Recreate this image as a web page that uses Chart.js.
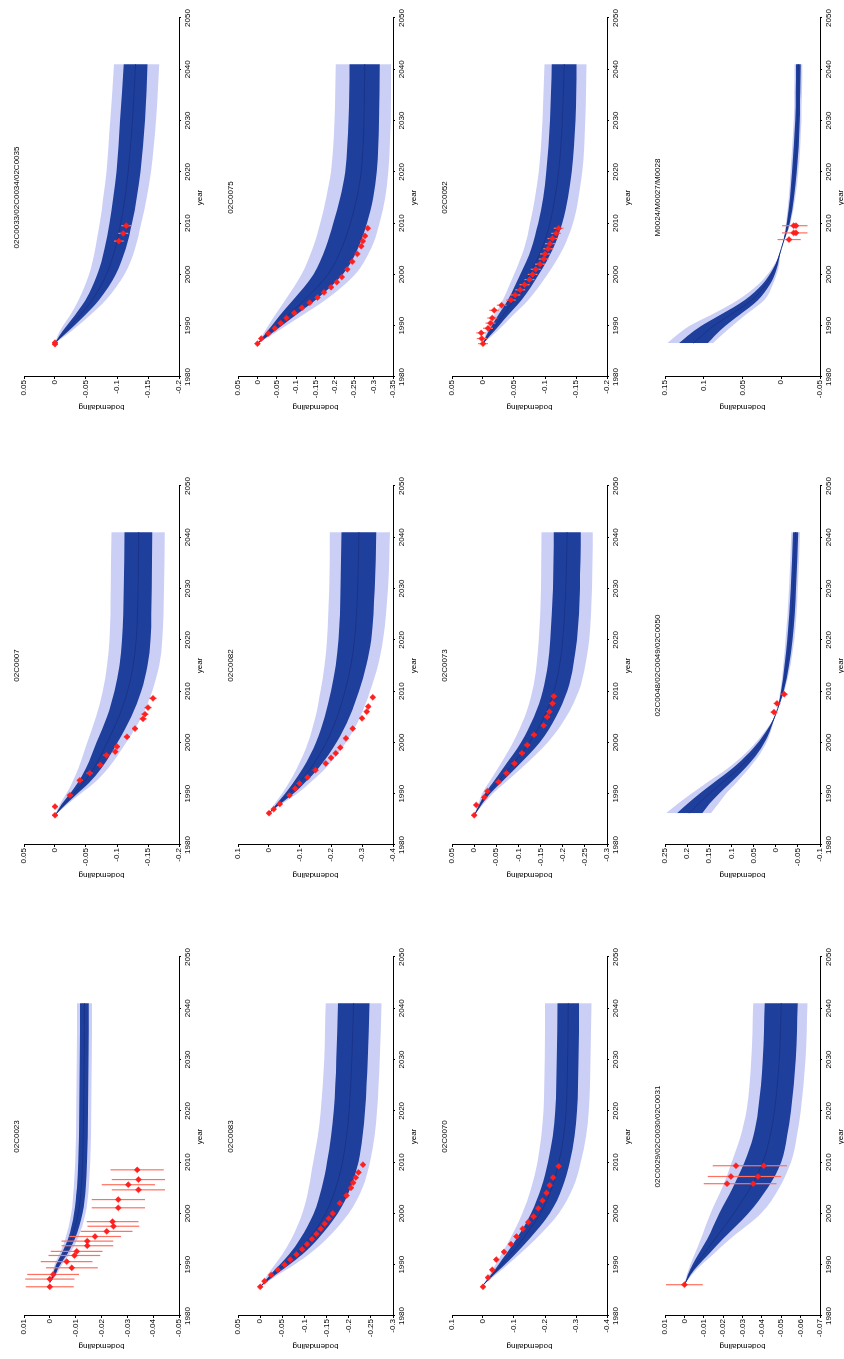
<!DOCTYPE html>
<html>
<head>
<meta charset="utf-8">
<title>bodemdaling per meetpunt</title>
<script src="https://cdn.jsdelivr.net/npm/chart.js@4.4.1/dist/chart.umd.min.js"></script>
<style>
  html, body { margin: 0; padding: 0; background: #fff; overflow: hidden; }
  body { width: 844px; height: 1359px; position: relative; }
  /* the sheet is laid out landscape and turned a quarter counter-clockwise */
  #sheet { position: absolute; left: 0; top: 0; width: 1359px; height: 844px;
           transform-origin: 0 0; transform: translate(0, 1359px) rotate(-90deg); }
  #sheet canvas { position: absolute; }
</style>
</head>
<body>
<div id="sheet"></div>
<script>
// ---------- data ----------
const yearTicks = [1980, 1990, 2000, 2010, 2020, 2030, 2040, 2050];

// 02C0023
const tick0023 = [0.01, 0, -0.01, -0.02, -0.03, -0.04, -0.05];
const yrs0023 = [1986.5, 1988, 1990, 1992, 1995, 2000, 2005, 2010, 2020, 2030, 2041];
const hi2_0023 = [0, -0.0006, -0.0018, -0.0036, -0.0060, -0.0083, -0.0093, -0.0098, -0.0102, -0.0104, -0.0105];
const hi1_0023 = [0, -0.0010, -0.0024, -0.0044, -0.0070, -0.0094, -0.0105, -0.0110, -0.0114, -0.0116, -0.0117];
const mid0023  = [0, -0.0015, -0.0032, -0.0055, -0.0083, -0.0110, -0.0122, -0.0127, -0.0131, -0.0133, -0.0134];
const lo1_0023 = [0, -0.0020, -0.0040, -0.0066, -0.0096, -0.0126, -0.0139, -0.0144, -0.0148, -0.0150, -0.0151];
const lo2_0023 = [0, -0.0025, -0.0047, -0.0075, -0.0107, -0.0138, -0.0151, -0.0156, -0.0160, -0.0162, -0.0163];
const obsYr0023  = [1985.7, 1987.2, 1988.1, 1989.4, 1990.6, 1991.8, 1992.6, 1993.7, 1994.6, 1995.5, 1996.5, 1997.5, 1998.4, 2001.1, 2002.7, 2004.6, 2005.6, 2006.6, 2008.5];
const obsVal0023 = [0, 0, -0.0013, -0.0085, -0.0065, -0.0095, -0.0104, -0.0145, -0.0145, -0.0175, -0.0220, -0.0246, -0.0243, -0.0265, -0.0265, -0.0343, -0.0304, -0.0343, -0.0338];
const obsErr0023 = [0.0093, 0.0095, 0.0100, 0.0100, 0.0100, 0.0100, 0.0100, 0.0100, 0.0100, 0.0100, 0.0100, 0.0100, 0.0100, 0.0103, 0.0103, 0.0103, 0.0103, 0.0103, 0.0103];

// 02C0007
const tick0007 = [0.05, 0, -0.05, -0.1, -0.15, -0.2];
const yrs0007 = [1985.8, 1988, 1990, 1992, 1995, 2000, 2005, 2010, 2015, 2020, 2030, 2041];
const hi2_0007 = [0, -0.008, -0.018, -0.027, -0.038, -0.052, -0.066, -0.077, -0.084, -0.088, -0.090, -0.091];
const hi1_0007 = [0, -0.011, -0.024, -0.036, -0.050, -0.067, -0.084, -0.096, -0.104, -0.108, -0.111, -0.112];
const mid0007  = [0, -0.015, -0.030, -0.045, -0.063, -0.084, -0.103, -0.117, -0.126, -0.131, -0.134, -0.135];
const lo1_0007 = [0, -0.018, -0.036, -0.054, -0.075, -0.101, -0.123, -0.139, -0.149, -0.154, -0.156, -0.157];
const lo2_0007 = [0, -0.021, -0.041, -0.062, -0.086, -0.115, -0.140, -0.157, -0.168, -0.173, -0.176, -0.177];
const obsYr0007  = [1985.8, 1987.5, 1989.7, 1992.6, 1994.0, 1995.6, 1997.5, 1998.2, 1999.2, 2001.1, 2002.7, 2004.6, 2005.5, 2006.8, 2008.6];
const obsVal0007 = [0, 0, -0.024, -0.040, -0.056, -0.073, -0.083, -0.097, -0.100, -0.116, -0.129, -0.142, -0.145, -0.150, -0.158];
const obsErr0007 = [0.005, 0.005, 0.005, 0.005, 0.005, 0.005, 0.005, 0.005, 0.005, 0.005, 0.005, 0.006, 0.006, 0.006, 0.006];

// 02C0033/02C0034/02C0035
const tick0033 = [0.05, 0, -0.05, -0.1, -0.15, -0.2];
const yrs0033 = [1986.6, 1988, 1990, 1992, 1995, 2000, 2005, 2010, 2015, 2020, 2030, 2041];
const hi2_0033 = [0, -0.004, -0.013, -0.024, -0.038, -0.055, -0.065, -0.072, -0.078, -0.083, -0.089, -0.095];
const hi1_0033 = [0, -0.007, -0.019, -0.032, -0.049, -0.068, -0.080, -0.088, -0.094, -0.099, -0.105, -0.111];
const mid0033  = [0, -0.010, -0.025, -0.040, -0.060, -0.083, -0.097, -0.106, -0.113, -0.118, -0.125, -0.130];
const lo1_0033 = [0, -0.013, -0.031, -0.048, -0.071, -0.098, -0.114, -0.124, -0.132, -0.138, -0.145, -0.149];
const lo2_0033 = [0, -0.016, -0.037, -0.056, -0.082, -0.112, -0.129, -0.139, -0.148, -0.155, -0.163, -0.168];
const obsYr0033  = [1986.4, 1986.7, 2006.5, 2008.0, 2009.5];
const obsVal0033 = [0, 0, -0.103, -0.110, -0.115];
const obsErr0033 = [0.004, 0.004, 0.008, 0.008, 0.008];

// 02C0083
const tick0083 = [0.05, 0, -0.05, -0.1, -0.15, -0.2, -0.25, -0.3];
const yrs0083 = [1985.7, 1988, 1990, 1992, 1995, 2000, 2005, 2010, 2015, 2020, 2030, 2041];
const hi2_0083 = [0, -0.016, -0.033, -0.050, -0.070, -0.095, -0.110, -0.120, -0.130, -0.137, -0.145, -0.148];
const hi1_0083 = [0, -0.022, -0.044, -0.065, -0.090, -0.121, -0.139, -0.151, -0.160, -0.166, -0.172, -0.176];
const mid0083  = [0, -0.028, -0.055, -0.080, -0.110, -0.148, -0.171, -0.186, -0.195, -0.201, -0.207, -0.211];
const lo1_0083 = [0, -0.034, -0.066, -0.095, -0.130, -0.175, -0.204, -0.222, -0.231, -0.237, -0.243, -0.247];
const lo2_0083 = [0, -0.040, -0.077, -0.110, -0.150, -0.200, -0.231, -0.248, -0.258, -0.264, -0.270, -0.274];
const obsYr0083  = [1985.7, 1986.8, 1988, 1989, 1990, 1991, 1992, 1993, 1994, 1995, 1996, 1997, 1998, 1999, 2000, 2002, 2003.5, 2005, 2006, 2007, 2008, 2009.5];
const obsVal0083 = [0, -0.010, -0.025, -0.040, -0.055, -0.068, -0.082, -0.095, -0.106, -0.117, -0.127, -0.137, -0.146, -0.155, -0.164, -0.180, -0.195, -0.205, -0.210, -0.216, -0.222, -0.232];
const obsErr0083 = [0.004, 0.004, 0.004, 0.004, 0.004, 0.004, 0.004, 0.004, 0.004, 0.004, 0.004, 0.004, 0.004, 0.004, 0.004, 0.004, 0.004, 0.004, 0.004, 0.004, 0.004, 0.004];

// 02C0082
const tick0082 = [0.1, 0, -0.1, -0.2, -0.3, -0.4];
const yrs0082 = [1986.2, 1988, 1990, 1992, 1995, 2000, 2005, 2010, 2015, 2020, 2030, 2041];
const hi2_0082 = [0, -0.018, -0.042, -0.063, -0.090, -0.126, -0.150, -0.166, -0.179, -0.187, -0.194, -0.196];
const hi1_0082 = [0, -0.024, -0.052, -0.077, -0.110, -0.152, -0.180, -0.200, -0.215, -0.224, -0.231, -0.234];
const mid0082  = [0, -0.030, -0.065, -0.095, -0.135, -0.185, -0.220, -0.245, -0.264, -0.276, -0.286, -0.290];
const lo1_0082 = [0, -0.036, -0.078, -0.113, -0.160, -0.218, -0.260, -0.290, -0.314, -0.330, -0.341, -0.346];
const lo2_0082 = [0, -0.042, -0.090, -0.130, -0.183, -0.248, -0.294, -0.326, -0.352, -0.368, -0.384, -0.390];
const obsYr0082  = [1986.2, 1987, 1988, 1989.7, 1991, 1992, 1993.2, 1994.6, 1995.9, 1997, 1997.9, 1999, 2000.8, 2002.7, 2004.7, 2006, 2007, 2008.8];
const obsVal0082 = [0, -0.015, -0.035, -0.066, -0.085, -0.098, -0.124, -0.150, -0.183, -0.200, -0.215, -0.230, -0.248, -0.270, -0.300, -0.315, -0.320, -0.335];
const obsErr0082 = [0.006, 0.006, 0.006, 0.006, 0.006, 0.006, 0.006, 0.006, 0.006, 0.006, 0.006, 0.006, 0.006, 0.006, 0.006, 0.006, 0.006, 0.006];

// 02C0075
const tick0075 = [0.05, 0, -0.05, -0.1, -0.15, -0.2, -0.25, -0.3, -0.35];
const yrs0075 = [1986.5, 1988, 1990, 1992, 1995, 2000, 2005, 2010, 2015, 2020, 2030, 2041];
const hi2_0075 = [0, -0.012, -0.028, -0.045, -0.072, -0.114, -0.142, -0.162, -0.178, -0.190, -0.199, -0.202];
const hi1_0075 = [0, -0.016, -0.037, -0.058, -0.092, -0.145, -0.175, -0.196, -0.214, -0.227, -0.235, -0.238];
const mid0075  = [0, -0.022, -0.050, -0.078, -0.121, -0.182, -0.217, -0.240, -0.257, -0.268, -0.275, -0.277];
const lo1_0075 = [0, -0.028, -0.063, -0.098, -0.150, -0.220, -0.259, -0.283, -0.299, -0.308, -0.314, -0.316];
const lo2_0075 = [0, -0.033, -0.074, -0.115, -0.175, -0.252, -0.293, -0.315, -0.330, -0.338, -0.344, -0.345];
const obsYr0075  = [1986.5, 1987.5, 1988.5, 1989.5, 1990.5, 1991.5, 1992.5, 1993.5, 1994.5, 1995.5, 1996.5, 1997.5, 1998.5, 1999.5, 2001, 2002.5, 2004, 2005.5, 2006.5, 2007.5, 2009];
const obsVal0075 = [0, -0.010, -0.028, -0.045, -0.060, -0.075, -0.095, -0.115, -0.135, -0.155, -0.172, -0.190, -0.205, -0.218, -0.232, -0.245, -0.258, -0.268, -0.272, -0.278, -0.285];
const obsErr0075 = [0.004, 0.004, 0.004, 0.004, 0.004, 0.004, 0.004, 0.004, 0.004, 0.004, 0.004, 0.004, 0.004, 0.004, 0.004, 0.004, 0.004, 0.004, 0.004, 0.004, 0.004];

// 02C0070
const tick0070 = [0.1, 0, -0.1, -0.2, -0.3, -0.4];
const yrs0070 = [1986, 1988, 1990, 1992, 1995, 2000, 2005, 2010, 2015, 2020, 2030, 2041];
const hi2_0070 = [0, -0.020, -0.040, -0.059, -0.087, -0.127, -0.156, -0.176, -0.188, -0.195, -0.199, -0.200];
const hi1_0070 = [0, -0.025, -0.050, -0.073, -0.107, -0.155, -0.188, -0.210, -0.225, -0.233, -0.238, -0.240];
const mid0070  = [0, -0.030, -0.060, -0.088, -0.128, -0.185, -0.222, -0.245, -0.260, -0.268, -0.273, -0.275];
const lo1_0070 = [0, -0.035, -0.070, -0.103, -0.149, -0.215, -0.256, -0.280, -0.295, -0.303, -0.308, -0.310];
const lo2_0070 = [0, -0.040, -0.080, -0.117, -0.170, -0.244, -0.290, -0.315, -0.332, -0.341, -0.347, -0.350];
const obsYr0070  = [1985.7, 1987.5, 1989, 1991, 1992.5, 1994, 1995.5, 1997, 1998.3, 1999.4, 2001, 2002.5, 2004, 2005.5, 2007, 2009.2];
const obsVal0070 = [0, -0.016, -0.030, -0.043, -0.068, -0.090, -0.108, -0.128, -0.146, -0.163, -0.178, -0.192, -0.205, -0.215, -0.226, -0.244];
const obsErr0070 = [0.006, 0.006, 0.006, 0.006, 0.006, 0.006, 0.006, 0.006, 0.006, 0.006, 0.006, 0.006, 0.006, 0.006, 0.006, 0.006];

// 02C0073
const tick0073 = [0.05, 0, -0.05, -0.1, -0.15, -0.2, -0.25, -0.3];
const yrs0073 = [1985.8, 1988, 1990, 1992, 1995, 2000, 2005, 2010, 2015, 2020, 2030, 2041];
const hi2_0073 = [0, -0.009, -0.018, -0.032, -0.054, -0.088, -0.114, -0.131, -0.141, -0.146, -0.151, -0.152];
const hi1_0073 = [0, -0.012, -0.024, -0.041, -0.066, -0.106, -0.135, -0.155, -0.166, -0.172, -0.178, -0.180];
const mid0073  = [0, -0.015, -0.030, -0.050, -0.080, -0.125, -0.158, -0.180, -0.193, -0.200, -0.207, -0.210];
const lo1_0073 = [0, -0.018, -0.036, -0.059, -0.094, -0.148, -0.185, -0.210, -0.224, -0.232, -0.239, -0.241];
const lo2_0073 = [0, -0.021, -0.042, -0.068, -0.107, -0.166, -0.208, -0.236, -0.251, -0.260, -0.266, -0.268];
const obsYr0073  = [1985.8, 1987.8, 1989.3, 1990.5, 1992.3, 1994, 1995.9, 1997.9, 1999.5, 2001.5, 2003.3, 2005, 2006, 2007.6, 2009];
const obsVal0073 = [0, -0.005, -0.023, -0.030, -0.055, -0.073, -0.091, -0.108, -0.120, -0.135, -0.157, -0.165, -0.170, -0.177, -0.180];
const obsErr0073 = [0.006, 0.006, 0.006, 0.006, 0.006, 0.006, 0.006, 0.006, 0.006, 0.006, 0.006, 0.006, 0.006, 0.006, 0.006];

// 02C0052
const tick0052 = [0.05, 0, -0.05, -0.1, -0.15, -0.2];
const yrs0052 = [1986.5, 1988, 1990, 1992, 1995, 2000, 2005, 2010, 2015, 2020, 2030, 2041];
const hi2_0052 = [0, -0.003, -0.010, -0.018, -0.032, -0.050, -0.066, -0.076, -0.084, -0.090, -0.096, -0.099];
const hi1_0052 = [0, -0.005, -0.014, -0.024, -0.040, -0.060, -0.078, -0.089, -0.097, -0.102, -0.108, -0.111];
const mid0052  = [0, -0.008, -0.020, -0.032, -0.050, -0.075, -0.095, -0.108, -0.116, -0.122, -0.128, -0.131];
const lo1_0052 = [0, -0.011, -0.026, -0.040, -0.062, -0.090, -0.113, -0.128, -0.137, -0.143, -0.149, -0.151];
const lo2_0052 = [0, -0.014, -0.032, -0.048, -0.073, -0.104, -0.129, -0.145, -0.154, -0.160, -0.165, -0.167];
const obsYr0052  = [1986.5, 1987.5, 1988.6, 1989.5, 1990.5, 1991.5, 1993, 1994, 1995, 1996, 1997, 1998, 1999, 2000, 2001, 2002, 2003, 2004, 2005, 2006, 2007, 2008, 2009];
const obsVal0052 = [0, 0.002, 0.003, -0.008, -0.012, -0.015, -0.018, -0.030, -0.045, -0.052, -0.060, -0.067, -0.075, -0.080, -0.085, -0.092, -0.098, -0.100, -0.105, -0.108, -0.112, -0.118, -0.122];
const obsErr0052 = [0.008, 0.008, 0.008, 0.008, 0.008, 0.008, 0.008, 0.008, 0.008, 0.008, 0.008, 0.008, 0.008, 0.008, 0.008, 0.008, 0.008, 0.008, 0.008, 0.008, 0.008, 0.008, 0.008];

// 02C0029/02C0030/02C0031
const tick0029 = [0.01, 0, -0.01, -0.02, -0.03, -0.04, -0.05, -0.06, -0.07];
const yrs0029 = [1986.1, 1988, 1990, 1992, 1995, 2000, 2005, 2010, 2015, 2020, 2030, 2041];
const hi2_0029 = [0, -0.0012, -0.0030, -0.0052, -0.0085, -0.0135, -0.0195, -0.0245, -0.0290, -0.0320, -0.0345, -0.0355];
const hi1_0029 = [0, -0.0018, -0.0042, -0.0072, -0.0118, -0.0180, -0.0250, -0.0310, -0.0355, -0.0380, -0.0405, -0.0415];
const mid0029  = [0, -0.0025, -0.0058, -0.0098, -0.0158, -0.0255, -0.0340, -0.0405, -0.0442, -0.0465, -0.0490, -0.0500];
const lo1_0029 = [0, -0.0032, -0.0074, -0.0124, -0.0198, -0.0330, -0.0430, -0.0500, -0.0530, -0.0550, -0.0575, -0.0585];
const lo2_0029 = [0, -0.0038, -0.0088, -0.0148, -0.0235, -0.0395, -0.0490, -0.0550, -0.0580, -0.0600, -0.0625, -0.0635];
const obsYr0029  = [1986.1, 2005.8, 2005.8, 2007.2, 2007.2, 2009.3, 2009.3];
const obsVal0029 = [0, -0.0220, -0.0355, -0.0240, -0.0380, -0.0266, -0.0410];
const obsErr0029 = [0.0095, 0.012, 0.012, 0.012, 0.012, 0.012, 0.012];

// 02C0048/02C0049/02C0050
const tick0048 = [0.25, 0.2, 0.15, 0.1, 0.05, 0, -0.05, -0.1];
const yrs0048 = [1986.2, 1988, 1990, 1992, 1995, 1998, 2001, 2005.5, 2010, 2020, 2030, 2041];
const hi2_0048 = [0.248, 0.222, 0.191, 0.158, 0.108, 0.067, 0.035, 0, -0.010, -0.022, -0.030, -0.035];
const hi1_0048 = [0.223, 0.200, 0.172, 0.142, 0.097, 0.060, 0.031, 0, -0.012, -0.026, -0.034, -0.039];
const mid0048  = [0.195, 0.175, 0.150, 0.123, 0.083, 0.050, 0.025, 0, -0.015, -0.032, -0.040, -0.045];
const lo1_0048 = [0.166, 0.150, 0.128, 0.104, 0.069, 0.040, 0.019, 0, -0.018, -0.038, -0.046, -0.051];
const lo2_0048 = [0.146, 0.130, 0.112, 0.090, 0.060, 0.034, 0.016, 0, -0.020, -0.042, -0.050, -0.055];
const obsYr0048  = [2005.9, 2007.6, 2009.4];
const obsVal0048 = [0.004, -0.003, -0.019];
const obsErr0048 = [0.008, 0.008, 0.008];

// M0024/M0027/M0028
const tickM0024 = [0.15, 0.1, 0.05, 0, -0.05];
const yrsM0024 = [1986.6, 1988, 1990, 1992, 1995, 1998, 2001, 2005, 2010, 2020, 2030, 2041];
const hi2_M0024 = [0.147, 0.136, 0.118, 0.092, 0.056, 0.030, 0.013, 0, -0.006, -0.012, -0.016, -0.017];
const hi1_M0024 = [0.132, 0.121, 0.103, 0.080, 0.047, 0.025, 0.011, 0, -0.007, -0.014, -0.018, -0.019];
const midM0024  = [0.113, 0.103, 0.087, 0.067, 0.038, 0.020, 0.009, 0, -0.009, -0.017, -0.021, -0.022];
const lo1_M0024 = [0.095, 0.086, 0.072, 0.055, 0.030, 0.015, 0.006, 0, -0.011, -0.020, -0.024, -0.025];
const lo2_M0024 = [0.088, 0.078, 0.063, 0.047, 0.022, 0.011, 0.004, 0, -0.012, -0.022, -0.026, -0.027];
const obsYrM0024  = [2006.8, 2008.1, 2008.1, 2009.5, 2009.5];
const obsValM0024 = [-0.010, -0.016, -0.019, -0.016, -0.019];
const obsErrM0024 = [0.015, 0.015, 0.015, 0.015, 0.015];

// ---------- panels (row / column of the landscape sheet) ----------
const panels = [
  { title: '02C0023', row: 0, col: 0, ticks: tick0023, yrs: yrs0023, hi2: hi2_0023, hi1: hi1_0023, mid: mid0023, lo1: lo1_0023, lo2: lo2_0023, oy: obsYr0023, ov: obsVal0023, oe: obsErr0023 },
  { title: '02C0007', row: 0, col: 1, ticks: tick0007, yrs: yrs0007, hi2: hi2_0007, hi1: hi1_0007, mid: mid0007, lo1: lo1_0007, lo2: lo2_0007, oy: obsYr0007, ov: obsVal0007, oe: obsErr0007 },
  { title: '02C0033/02C0034/02C0035', row: 0, col: 2, ticks: tick0033, yrs: yrs0033, hi2: hi2_0033, hi1: hi1_0033, mid: mid0033, lo1: lo1_0033, lo2: lo2_0033, oy: obsYr0033, ov: obsVal0033, oe: obsErr0033 },
  { title: '02C0083', row: 1, col: 0, ticks: tick0083, yrs: yrs0083, hi2: hi2_0083, hi1: hi1_0083, mid: mid0083, lo1: lo1_0083, lo2: lo2_0083, oy: obsYr0083, ov: obsVal0083, oe: obsErr0083 },
  { title: '02C0082', row: 1, col: 1, ticks: tick0082, yrs: yrs0082, hi2: hi2_0082, hi1: hi1_0082, mid: mid0082, lo1: lo1_0082, lo2: lo2_0082, oy: obsYr0082, ov: obsVal0082, oe: obsErr0082 },
  { title: '02C0075', row: 1, col: 2, ticks: tick0075, yrs: yrs0075, hi2: hi2_0075, hi1: hi1_0075, mid: mid0075, lo1: lo1_0075, lo2: lo2_0075, oy: obsYr0075, ov: obsVal0075, oe: obsErr0075 },
  { title: '02C0070', row: 2, col: 0, ticks: tick0070, yrs: yrs0070, hi2: hi2_0070, hi1: hi1_0070, mid: mid0070, lo1: lo1_0070, lo2: lo2_0070, oy: obsYr0070, ov: obsVal0070, oe: obsErr0070 },
  { title: '02C0073', row: 2, col: 1, ticks: tick0073, yrs: yrs0073, hi2: hi2_0073, hi1: hi1_0073, mid: mid0073, lo1: lo1_0073, lo2: lo2_0073, oy: obsYr0073, ov: obsVal0073, oe: obsErr0073 },
  { title: '02C0052', row: 2, col: 2, ticks: tick0052, yrs: yrs0052, hi2: hi2_0052, hi1: hi1_0052, mid: mid0052, lo1: lo1_0052, lo2: lo2_0052, oy: obsYr0052, ov: obsVal0052, oe: obsErr0052 },
  { title: '02C0029/02C0030/02C0031', row: 3, col: 0, ticks: tick0029, yrs: yrs0029, hi2: hi2_0029, hi1: hi1_0029, mid: mid0029, lo1: lo1_0029, lo2: lo2_0029, oy: obsYr0029, ov: obsVal0029, oe: obsErr0029 },
  { title: '02C0048/02C0049/02C0050', row: 3, col: 1, ticks: tick0048, yrs: yrs0048, hi2: hi2_0048, hi1: hi1_0048, mid: mid0048, lo1: lo1_0048, lo2: lo2_0048, oy: obsYr0048, ov: obsVal0048, oe: obsErr0048 },
  { title: 'M0024/M0027/M0028', row: 3, col: 2, ticks: tickM0024, yrs: yrsM0024, hi2: hi2_M0024, hi1: hi1_M0024, mid: midM0024, lo1: lo1_M0024, lo2: lo2_M0024, oy: obsYrM0024, ov: obsValM0024, oe: obsErrM0024 }
];

// ---------- layout & style ----------
const plotLeft = [43, 514, 982];
const plotTop = [24, 238, 452, 665];
const plotW = 359, plotH = 155;
const ML = 40, MT = 20, MR = 12, MB = 30;

const LIGHT = '#cbcff5';
const DARK = '#1f3f9d';
const MEAN = '#1a3388';
const RED = '#ff1f1f';
const ERR = '#ff7060';
const NONE = 'rgba(0,0,0,0)';

Chart.defaults.font.family = '"Liberation Sans", Arial, sans-serif';
Chart.defaults.font.size = 8;
Chart.defaults.color = '#000';

const panelTitle = {
  id: 'panelTitle',
  afterDraw(chart, args, opts) {
    const { ctx, chartArea } = chart;
    ctx.save();
    ctx.font = '8px "Liberation Sans", Arial, sans-serif';
    ctx.fillStyle = '#000';
    ctx.textAlign = 'center';
    ctx.textBaseline = 'middle';
    ctx.fillText(opts.text, (chartArea.left + chartArea.right) / 2, chartArea.top - 7);
    ctx.restore();
  }
};

const xy = (xs, ys) => xs.map((x, i) => ({ x, y: ys[i] }));

function errorSegments(xs, ys, es) {
  const out = [];
  xs.forEach((x, i) => {
    out.push({ x, y: ys[i] - es[i] }, { x, y: ys[i] + es[i] }, { x, y: null });
  });
  return out;
}

const sheet = document.getElementById('sheet');

panels.forEach(p => {
  const cv = document.createElement('canvas');
  const W = plotW + ML + MR, H = plotH + MT + MB;
  cv.width = W; cv.height = H;
  cv.style.width = W + 'px'; cv.style.height = H + 'px';
  cv.style.left = (plotLeft[p.col] - ML) + 'px';
  cv.style.top = (plotTop[p.row] - MT) + 'px';
  sheet.appendChild(cv);

  const band = { borderColor: NONE, borderWidth: 1, pointRadius: 0, cubicInterpolationMode: 'monotone' };
  const yMax = p.ticks[0], yMin = p.ticks[p.ticks.length - 1];

  new Chart(cv, {
    type: 'line',
    data: {
      datasets: [
        { ...band, data: xy(p.yrs, p.lo2), fill: false, order: 6 },
        { ...band, data: xy(p.yrs, p.hi2), fill: '-1', backgroundColor: LIGHT, order: 6 },
        { ...band, data: xy(p.yrs, p.lo1), fill: false, order: 5 },
        { ...band, data: xy(p.yrs, p.hi1), fill: '-1', backgroundColor: DARK, order: 5 },
        { data: xy(p.yrs, p.mid), borderColor: MEAN, borderWidth: 1, pointRadius: 0, fill: false, cubicInterpolationMode: 'monotone', order: 4 },
        { data: errorSegments(p.oy, p.ov, p.oe), borderColor: ERR, borderWidth: 1.2, pointRadius: 0, fill: false, tension: 0, spanGaps: false, order: 3 },
        { data: xy(p.oy, p.ov), showLine: false, pointStyle: 'rectRot', pointRadius: 3, pointBackgroundColor: RED, pointBorderColor: RED, pointBorderWidth: 0.5, order: 2 }
      ]
    },
    options: {
      responsive: false,
      animation: false,
      devicePixelRatio: 1,
      events: [],
      layout: { padding: { top: MT, right: MR, left: 0, bottom: 0 } },
      plugins: {
        legend: { display: false },
        tooltip: { enabled: false },
        panelTitle: { text: p.title }
      },
      scales: {
        x: {
          type: 'linear', min: 1980, max: 2050,
          afterBuildTicks: s => { s.ticks = yearTicks.map(v => ({ value: v })); },
          afterFit: s => { s.height = MB; },
          grid: { display: true, drawOnChartArea: false, drawTicks: true, tickLength: 2, color: '#000' },
          border: { display: true, color: '#000', width: 1 },
          ticks: { color: '#000', padding: 2, maxRotation: 0, autoSkip: false, callback: v => String(v) },
          title: { display: true, text: 'year', color: '#000', padding: { top: 0, bottom: 4 } }
        },
        y: {
          type: 'linear', min: yMin, max: yMax,
          afterBuildTicks: s => { s.ticks = p.ticks.map(v => ({ value: v })); },
          afterFit: s => { s.width = ML; },
          grid: { display: true, drawOnChartArea: false, drawTicks: true, tickLength: 2, color: '#000' },
          border: { display: true, color: '#000', width: 1 },
          ticks: { color: '#000', padding: 1, autoSkip: false, callback: v => String(+v.toFixed(4)) },
          title: { display: true, text: 'bodemdaling', color: '#000', padding: { top: 5, bottom: 0 } }
        }
      }
    },
    plugins: [panelTitle]
  });
});
</script>
</body>
</html>
